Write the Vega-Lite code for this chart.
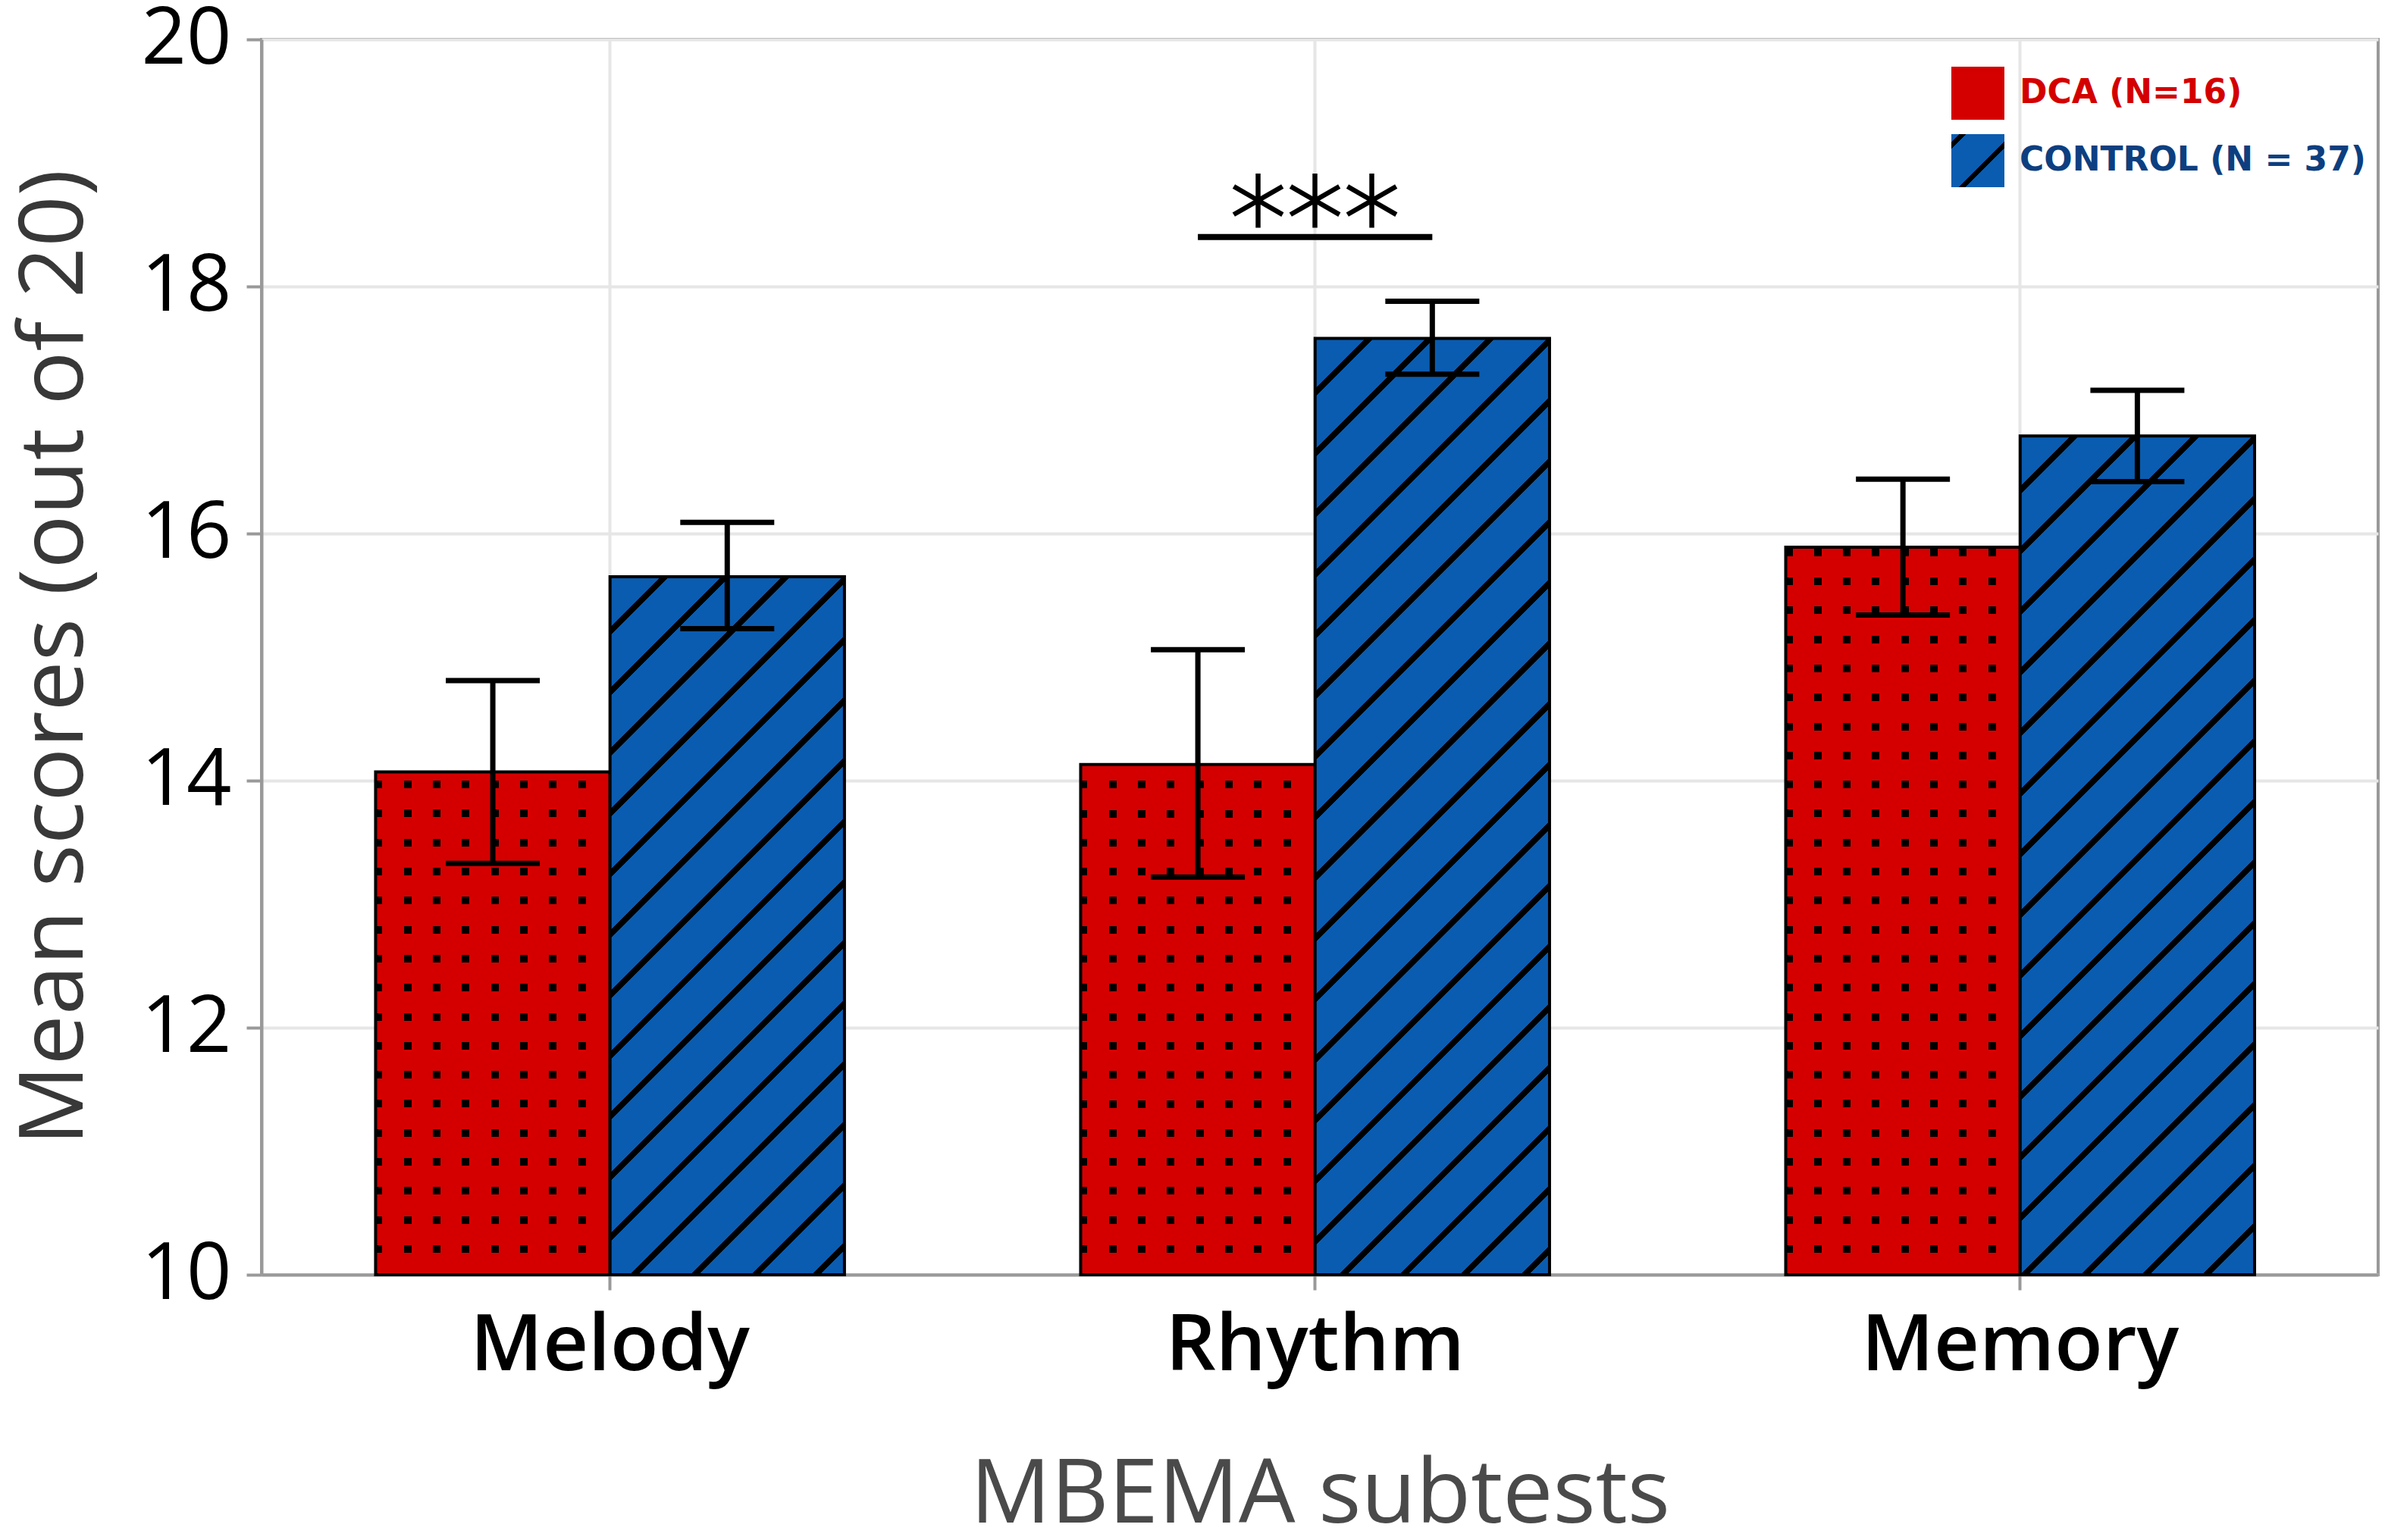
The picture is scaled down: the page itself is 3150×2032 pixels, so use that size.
{
  "$schema": "https://vega.github.io/schema/vega-lite/v6.json",
  "width": 2792,
  "height": 1630,
  "autosize": {"type": "none"},
  "padding": {"left": 345, "top": 52, "right": 13, "bottom": 350},
  "background": "white",
  "config": {
    "view": {"stroke": "#999999", "strokeWidth": 4},
    "axis": {"labelFont": "Open Sans", "titleFont": "Open Sans", "titleFontWeight": "normal"}
  },
  "params": [
    {
      "name": "rowStops",
      "value": [
        {"offset": 0, "color": "#d40000"},
        {"offset": 0.029, "color": "#d40000"}, {"offset": 0.029, "color": "rgba(212,0,0,0)"}, {"offset": 0.039, "color": "rgba(212,0,0,0)"}, {"offset": 0.039, "color": "#d40000"},
        {"offset": 0.0673, "color": "#d40000"}, {"offset": 0.0673, "color": "rgba(212,0,0,0)"}, {"offset": 0.0773, "color": "rgba(212,0,0,0)"}, {"offset": 0.0773, "color": "#d40000"},
        {"offset": 0.1056, "color": "#d40000"}, {"offset": 0.1056, "color": "rgba(212,0,0,0)"}, {"offset": 0.1156, "color": "rgba(212,0,0,0)"}, {"offset": 0.1156, "color": "#d40000"},
        {"offset": 0.1439, "color": "#d40000"}, {"offset": 0.1439, "color": "rgba(212,0,0,0)"}, {"offset": 0.1539, "color": "rgba(212,0,0,0)"}, {"offset": 0.1539, "color": "#d40000"},
        {"offset": 0.1822, "color": "#d40000"}, {"offset": 0.1822, "color": "rgba(212,0,0,0)"}, {"offset": 0.1922, "color": "rgba(212,0,0,0)"}, {"offset": 0.1922, "color": "#d40000"},
        {"offset": 0.2205, "color": "#d40000"}, {"offset": 0.2205, "color": "rgba(212,0,0,0)"}, {"offset": 0.2305, "color": "rgba(212,0,0,0)"}, {"offset": 0.2305, "color": "#d40000"},
        {"offset": 0.2588, "color": "#d40000"}, {"offset": 0.2588, "color": "rgba(212,0,0,0)"}, {"offset": 0.2688, "color": "rgba(212,0,0,0)"}, {"offset": 0.2688, "color": "#d40000"},
        {"offset": 0.2971, "color": "#d40000"}, {"offset": 0.2971, "color": "rgba(212,0,0,0)"}, {"offset": 0.3071, "color": "rgba(212,0,0,0)"}, {"offset": 0.3071, "color": "#d40000"},
        {"offset": 0.3354, "color": "#d40000"}, {"offset": 0.3354, "color": "rgba(212,0,0,0)"}, {"offset": 0.3454, "color": "rgba(212,0,0,0)"}, {"offset": 0.3454, "color": "#d40000"},
        {"offset": 0.3737, "color": "#d40000"}, {"offset": 0.3737, "color": "rgba(212,0,0,0)"}, {"offset": 0.3837, "color": "rgba(212,0,0,0)"}, {"offset": 0.3837, "color": "#d40000"},
        {"offset": 0.412, "color": "#d40000"}, {"offset": 0.412, "color": "rgba(212,0,0,0)"}, {"offset": 0.422, "color": "rgba(212,0,0,0)"}, {"offset": 0.422, "color": "#d40000"},
        {"offset": 0.4503, "color": "#d40000"}, {"offset": 0.4503, "color": "rgba(212,0,0,0)"}, {"offset": 0.4603, "color": "rgba(212,0,0,0)"}, {"offset": 0.4603, "color": "#d40000"},
        {"offset": 0.4886, "color": "#d40000"}, {"offset": 0.4886, "color": "rgba(212,0,0,0)"}, {"offset": 0.4986, "color": "rgba(212,0,0,0)"}, {"offset": 0.4986, "color": "#d40000"},
        {"offset": 0.5269, "color": "#d40000"}, {"offset": 0.5269, "color": "rgba(212,0,0,0)"}, {"offset": 0.5369, "color": "rgba(212,0,0,0)"}, {"offset": 0.5369, "color": "#d40000"},
        {"offset": 0.5652, "color": "#d40000"}, {"offset": 0.5652, "color": "rgba(212,0,0,0)"}, {"offset": 0.5752, "color": "rgba(212,0,0,0)"}, {"offset": 0.5752, "color": "#d40000"},
        {"offset": 0.6035, "color": "#d40000"}, {"offset": 0.6035, "color": "rgba(212,0,0,0)"}, {"offset": 0.6135, "color": "rgba(212,0,0,0)"}, {"offset": 0.6135, "color": "#d40000"},
        {"offset": 0.6418, "color": "#d40000"}, {"offset": 0.6418, "color": "rgba(212,0,0,0)"}, {"offset": 0.6518, "color": "rgba(212,0,0,0)"}, {"offset": 0.6518, "color": "#d40000"},
        {"offset": 0.6801, "color": "#d40000"}, {"offset": 0.6801, "color": "rgba(212,0,0,0)"}, {"offset": 0.6901, "color": "rgba(212,0,0,0)"}, {"offset": 0.6901, "color": "#d40000"},
        {"offset": 0.7184, "color": "#d40000"}, {"offset": 0.7184, "color": "rgba(212,0,0,0)"}, {"offset": 0.7284, "color": "rgba(212,0,0,0)"}, {"offset": 0.7284, "color": "#d40000"},
        {"offset": 0.7567, "color": "#d40000"}, {"offset": 0.7567, "color": "rgba(212,0,0,0)"}, {"offset": 0.7667, "color": "rgba(212,0,0,0)"}, {"offset": 0.7667, "color": "#d40000"},
        {"offset": 0.795, "color": "#d40000"}, {"offset": 0.795, "color": "rgba(212,0,0,0)"}, {"offset": 0.805, "color": "rgba(212,0,0,0)"}, {"offset": 0.805, "color": "#d40000"},
        {"offset": 0.8333, "color": "#d40000"}, {"offset": 0.8333, "color": "rgba(212,0,0,0)"}, {"offset": 0.8433, "color": "rgba(212,0,0,0)"}, {"offset": 0.8433, "color": "#d40000"},
        {"offset": 0.8716, "color": "#d40000"}, {"offset": 0.8716, "color": "rgba(212,0,0,0)"}, {"offset": 0.8816, "color": "rgba(212,0,0,0)"}, {"offset": 0.8816, "color": "#d40000"},
        {"offset": 0.9099, "color": "#d40000"}, {"offset": 0.9099, "color": "rgba(212,0,0,0)"}, {"offset": 0.9199, "color": "rgba(212,0,0,0)"}, {"offset": 0.9199, "color": "#d40000"},
        {"offset": 0.9482, "color": "#d40000"}, {"offset": 0.9482, "color": "rgba(212,0,0,0)"}, {"offset": 0.9582, "color": "rgba(212,0,0,0)"}, {"offset": 0.9582, "color": "#d40000"},
        {"offset": 1, "color": "#d40000"}
      ]
    },
    {
      "name": "hatchStops",
      "value": [
        {"offset": 0, "color": "#0a5cb0"},
        {"offset": 0.0416, "color": "#0a5cb0"}, {"offset": 0.0416, "color": "#000000"}, {"offset": 0.0484, "color": "#000000"}, {"offset": 0.0484, "color": "#0a5cb0"},
        {"offset": 0.0916, "color": "#0a5cb0"}, {"offset": 0.0916, "color": "#000000"}, {"offset": 0.0984, "color": "#000000"}, {"offset": 0.0984, "color": "#0a5cb0"},
        {"offset": 0.1416, "color": "#0a5cb0"}, {"offset": 0.1416, "color": "#000000"}, {"offset": 0.1484, "color": "#000000"}, {"offset": 0.1484, "color": "#0a5cb0"},
        {"offset": 0.1916, "color": "#0a5cb0"}, {"offset": 0.1916, "color": "#000000"}, {"offset": 0.1984, "color": "#000000"}, {"offset": 0.1984, "color": "#0a5cb0"},
        {"offset": 0.2416, "color": "#0a5cb0"}, {"offset": 0.2416, "color": "#000000"}, {"offset": 0.2484, "color": "#000000"}, {"offset": 0.2484, "color": "#0a5cb0"},
        {"offset": 0.2916, "color": "#0a5cb0"}, {"offset": 0.2916, "color": "#000000"}, {"offset": 0.2984, "color": "#000000"}, {"offset": 0.2984, "color": "#0a5cb0"},
        {"offset": 0.3416, "color": "#0a5cb0"}, {"offset": 0.3416, "color": "#000000"}, {"offset": 0.3484, "color": "#000000"}, {"offset": 0.3484, "color": "#0a5cb0"},
        {"offset": 0.3916, "color": "#0a5cb0"}, {"offset": 0.3916, "color": "#000000"}, {"offset": 0.3984, "color": "#000000"}, {"offset": 0.3984, "color": "#0a5cb0"},
        {"offset": 0.4416, "color": "#0a5cb0"}, {"offset": 0.4416, "color": "#000000"}, {"offset": 0.4484, "color": "#000000"}, {"offset": 0.4484, "color": "#0a5cb0"},
        {"offset": 0.4916, "color": "#0a5cb0"}, {"offset": 0.4916, "color": "#000000"}, {"offset": 0.4984, "color": "#000000"}, {"offset": 0.4984, "color": "#0a5cb0"},
        {"offset": 0.5416, "color": "#0a5cb0"}, {"offset": 0.5416, "color": "#000000"}, {"offset": 0.5484, "color": "#000000"}, {"offset": 0.5484, "color": "#0a5cb0"},
        {"offset": 0.5916, "color": "#0a5cb0"}, {"offset": 0.5916, "color": "#000000"}, {"offset": 0.5984, "color": "#000000"}, {"offset": 0.5984, "color": "#0a5cb0"},
        {"offset": 0.6416, "color": "#0a5cb0"}, {"offset": 0.6416, "color": "#000000"}, {"offset": 0.6484, "color": "#000000"}, {"offset": 0.6484, "color": "#0a5cb0"},
        {"offset": 0.6916, "color": "#0a5cb0"}, {"offset": 0.6916, "color": "#000000"}, {"offset": 0.6984, "color": "#000000"}, {"offset": 0.6984, "color": "#0a5cb0"},
        {"offset": 0.7416, "color": "#0a5cb0"}, {"offset": 0.7416, "color": "#000000"}, {"offset": 0.7484, "color": "#000000"}, {"offset": 0.7484, "color": "#0a5cb0"},
        {"offset": 0.7916, "color": "#0a5cb0"}, {"offset": 0.7916, "color": "#000000"}, {"offset": 0.7984, "color": "#000000"}, {"offset": 0.7984, "color": "#0a5cb0"},
        {"offset": 0.8416, "color": "#0a5cb0"}, {"offset": 0.8416, "color": "#000000"}, {"offset": 0.8484, "color": "#000000"}, {"offset": 0.8484, "color": "#0a5cb0"},
        {"offset": 0.8916, "color": "#0a5cb0"}, {"offset": 0.8916, "color": "#000000"}, {"offset": 0.8984, "color": "#000000"}, {"offset": 0.8984, "color": "#0a5cb0"},
        {"offset": 0.9416, "color": "#0a5cb0"}, {"offset": 0.9416, "color": "#000000"}, {"offset": 0.9484, "color": "#000000"}, {"offset": 0.9484, "color": "#0a5cb0"},
        {"offset": 0.9916, "color": "#0a5cb0"}, {"offset": 0.9916, "color": "#000000"}, {"offset": 0.9984, "color": "#000000"}, {"offset": 0.9984, "color": "#0a5cb0"},
        {"offset": 1, "color": "#0a5cb0"}
      ]
    },
    {
      "name": "legendStops",
      "value": [
        {"offset": 0, "color": "#0a5cb0"},
        {"offset": 0.075, "color": "#0a5cb0"}, {"offset": 0.075, "color": "#000000"}, {"offset": 0.14, "color": "#000000"}, {"offset": 0.14, "color": "#0a5cb0"},
        {"offset": 0.565, "color": "#0a5cb0"}, {"offset": 0.565, "color": "#000000"}, {"offset": 0.63, "color": "#000000"}, {"offset": 0.63, "color": "#0a5cb0"},
        {"offset": 1, "color": "#0a5cb0"}
      ]
    }
  ],
  "datasets": {
    "scores": [
      {"subtest": "Melody", "group": "DCA (N=16)", "mean": 14.07, "lo": 13.33, "hi": 14.81},
      {"subtest": "Melody", "group": "CONTROL (N = 37)", "mean": 15.65, "lo": 15.23, "hi": 16.09},
      {"subtest": "Rhythm", "group": "DCA (N=16)", "mean": 14.13, "lo": 13.22, "hi": 15.06},
      {"subtest": "Rhythm", "group": "CONTROL (N = 37)", "mean": 17.58, "lo": 17.29, "hi": 17.88},
      {"subtest": "Memory", "group": "DCA (N=16)", "mean": 15.89, "lo": 15.34, "hi": 16.44},
      {"subtest": "Memory", "group": "CONTROL (N = 37)", "mean": 16.79, "lo": 16.42, "hi": 17.16}
    ],
    "sig": [
      {"subtest": "Rhythm", "ybar": 18.4, "label": "***"}
    ]
  },
  "layer": [
    {
      "data": {"name": "scores"},
      "transform": [{"filter": "datum.group === 'DCA (N=16)'"}],
      "mark": {"type": "bar", "strokeWidth": 0},
      "encoding": {
        "x": {
          "field": "subtest", "type": "nominal", "sort": ["Melody", "Rhythm", "Memory"], "title": "MBEMA subtests",
          "scale": {"domain": ["Melody", "Rhythm", "Memory"], "paddingInner": 0.335, "paddingOuter": 0.1685, "align": 0.48},
          "axis": {
            "labelFontSize": 104, "labelFontWeight": 600, "labelColor": "#000000", "labelAngle": 0, "labelBaseline": "alphabetic", "labelPadding": 105, "labelLimit": 800,
            "tickSize": 20, "tickColor": "#999999", "tickWidth": 4, "domainColor": "#999999", "domainWidth": 4,
            "grid": true, "gridColor": "#e6e6e6", "gridWidth": 4, "bandPosition": 0.5,
            "titleFontSize": 118, "titleColor": "#4a4a4a", "titleBaseline": "alphabetic", "titleY": 326, "titlePadding": 0
          }
        },
        "xOffset": {"field": "group", "type": "nominal", "scale": {"domain": ["DCA (N=16)", "CONTROL (N = 37)"]}},
        "y": {
          "field": "mean", "type": "quantitative", "title": "Mean scores (out of 20)",
          "scale": {"domain": [10, 20], "nice": false, "zero": false},
          "axis": {
            "values": [10, 12, 14, 16, 18, 20], "format": "d", "labelFontSize": 104, "labelColor": "#000000", "labelPadding": 20, "labelLimit": 500,
            "tickSize": 20, "tickColor": "#999999", "tickWidth": 4, "domainColor": "#999999", "domainWidth": 4,
            "grid": true, "gridColor": "#e6e6e6", "gridWidth": 4,
            "titleFontSize": 118, "titleColor": "#383838", "titleX": -237, "titleBaseline": "alphabetic", "titleAngle": -90, "titleLimit": 2000
          }
        },
        "y2": {"datum": 10},
        "fill": {
          "value": {
            "gradient": "linear", "x1": 0, "y1": 0, "x2": 1, "y2": 0,
            "stops": [
              {"offset": 0, "color": "#000000"}, {"offset": 0.0291, "color": "#000000"}, {"offset": 0.0291, "color": "#d40000"},
              {"offset": 0.1206, "color": "#d40000"}, {"offset": 0.1206, "color": "#000000"}, {"offset": 0.153, "color": "#000000"}, {"offset": 0.153, "color": "#d40000"},
              {"offset": 0.2445, "color": "#d40000"}, {"offset": 0.2445, "color": "#000000"}, {"offset": 0.2769, "color": "#000000"}, {"offset": 0.2769, "color": "#d40000"},
              {"offset": 0.3683, "color": "#d40000"}, {"offset": 0.3683, "color": "#000000"}, {"offset": 0.4007, "color": "#000000"}, {"offset": 0.4007, "color": "#d40000"},
              {"offset": 0.4922, "color": "#d40000"}, {"offset": 0.4922, "color": "#000000"}, {"offset": 0.5246, "color": "#000000"}, {"offset": 0.5246, "color": "#d40000"},
              {"offset": 0.6161, "color": "#d40000"}, {"offset": 0.6161, "color": "#000000"}, {"offset": 0.6485, "color": "#000000"}, {"offset": 0.6485, "color": "#d40000"},
              {"offset": 0.74, "color": "#d40000"}, {"offset": 0.74, "color": "#000000"}, {"offset": 0.7724, "color": "#000000"}, {"offset": 0.7724, "color": "#d40000"},
              {"offset": 0.8638, "color": "#d40000"}, {"offset": 0.8638, "color": "#000000"}, {"offset": 0.8962, "color": "#000000"}, {"offset": 0.8962, "color": "#d40000"},
              {"offset": 1, "color": "#d40000"}
            ]
          }
        }
      }
    },
    {
      "data": {"name": "scores"},
      "mark": {"type": "bar", "stroke": "#000000", "strokeWidth": 4},
      "encoding": {
        "x": {"field": "subtest", "type": "nominal", "sort": ["Melody", "Rhythm", "Memory"], "title": "MBEMA subtests"},
        "xOffset": {"field": "group", "type": "nominal", "scale": {"domain": ["DCA (N=16)", "CONTROL (N = 37)"]}},
        "y": {"field": "mean", "type": "quantitative", "title": "Mean scores (out of 20)"},
        "y2": {"datum": 10},
        "fill": {
          "condition": [
            {"test": "datum.group === 'CONTROL (N = 37)' && datum.subtest === 'Melody'", "value": {"expr": "{gradient: 'linear', x1: 0, y1: 0, x2: 0.5242, y2: 1.5613, stops: hatchStops}"}},
            {"test": "datum.group === 'CONTROL (N = 37)' && datum.subtest === 'Rhythm'", "value": {"expr": "{gradient: 'linear', x1: 0, y1: 0, x2: 0.305, y2: 1.2187, stops: hatchStops}"}},
            {"test": "datum.group === 'CONTROL (N = 37)' && datum.subtest === 'Memory'", "value": {"expr": "{gradient: 'linear', x1: 0, y1: 0, x2: 0.3746, y2: 1.341, stops: hatchStops}"}},
            {"test": "datum.group === 'DCA (N=16)' && datum.subtest === 'Melody'", "value": {"expr": "{gradient: 'linear', x1: 0.5, y1: 1, x2: 0.5, y2: -0.5074, stops: rowStops}"}},
            {"test": "datum.group === 'DCA (N=16)' && datum.subtest === 'Rhythm'", "value": {"expr": "{gradient: 'linear', x1: 0.5, y1: 1, x2: 0.5, y2: -0.4854, stops: rowStops}"}},
            {"test": "datum.group === 'DCA (N=16)' && datum.subtest === 'Memory'", "value": {"expr": "{gradient: 'linear', x1: 0.5, y1: 1, x2: 0.5, y2: -0.0416, stops: rowStops}"}}
          ],
          "field": "group", "type": "nominal",
          "scale": {
            "domain": ["DCA (N=16)", "CONTROL (N = 37)"],
            "range": ["#d40000", {"expr": "{gradient: 'linear', x1: 0, y1: 0, x2: 1, y2: 1, stops: legendStops}"}]
          },
          "legend": {
            "title": null, "orient": "none", "legendX": 2229, "legendY": 36, "direction": "vertical",
            "symbolType": "square", "symbolSize": 4900, "symbolStrokeWidth": 0,
            "labelFont": "DejaVu Sans", "labelFontWeight": "bold", "labelFontSize": 44, "labelOffset": 20,
            "labelColor": {"expr": "datum.value === 'DCA (N=16)' ? '#d40000' : '#0d3f80'"},
            "rowPadding": 19, "padding": 0, "labelLimit": 1000
          }
        }
      }
    },
    {
      "data": {"name": "scores"},
      "mark": {"type": "rule", "color": "#000000", "strokeWidth": 7},
      "encoding": {
        "x": {"field": "subtest", "type": "nominal", "sort": ["Melody", "Rhythm", "Memory"], "title": "MBEMA subtests"},
        "xOffset": {"field": "group", "type": "nominal", "scale": {"domain": ["DCA (N=16)", "CONTROL (N = 37)"]}},
        "y": {"field": "lo", "type": "quantitative", "title": "Mean scores (out of 20)"},
        "y2": {"field": "hi"}
      }
    },
    {
      "data": {"name": "scores"},
      "mark": {"type": "tick", "color": "#000000", "thickness": 7, "size": 124, "opacity": 1},
      "encoding": {
        "x": {"field": "subtest", "type": "nominal", "sort": ["Melody", "Rhythm", "Memory"], "title": "MBEMA subtests"},
        "xOffset": {"field": "group", "type": "nominal", "scale": {"domain": ["DCA (N=16)", "CONTROL (N = 37)"]}},
        "y": {"field": "lo", "type": "quantitative", "title": "Mean scores (out of 20)"}
      }
    },
    {
      "data": {"name": "scores"},
      "mark": {"type": "tick", "color": "#000000", "thickness": 7, "size": 124, "opacity": 1},
      "encoding": {
        "x": {"field": "subtest", "type": "nominal", "sort": ["Melody", "Rhythm", "Memory"], "title": "MBEMA subtests"},
        "xOffset": {"field": "group", "type": "nominal", "scale": {"domain": ["DCA (N=16)", "CONTROL (N = 37)"]}},
        "y": {"field": "hi", "type": "quantitative", "title": "Mean scores (out of 20)"}
      }
    },
    {
      "data": {"name": "sig"},
      "mark": {"type": "rule", "color": "#000000", "strokeWidth": 8},
      "encoding": {
        "x": {"field": "subtest", "type": "nominal", "sort": ["Melody", "Rhythm", "Memory"], "title": "MBEMA subtests", "bandPosition": 0.25},
        "x2": {"field": "subtest", "bandPosition": 0.75},
        "y": {"field": "ybar", "type": "quantitative", "title": "Mean scores (out of 20)"}
      }
    },
    {
      "data": {"name": "sig"},
      "mark": {"type": "text", "font": "DejaVu Sans", "fontSize": 150, "fontWeight": 200, "baseline": "alphabetic", "align": "center", "dy": 29, "color": "#000000", "stroke": "#000000", "strokeWidth": 3},
      "encoding": {
        "x": {"field": "subtest", "type": "nominal", "sort": ["Melody", "Rhythm", "Memory"], "title": "MBEMA subtests"},
        "y": {"field": "ybar", "type": "quantitative", "title": "Mean scores (out of 20)"},
        "text": {"field": "label"}
      }
    }
  ]
}
